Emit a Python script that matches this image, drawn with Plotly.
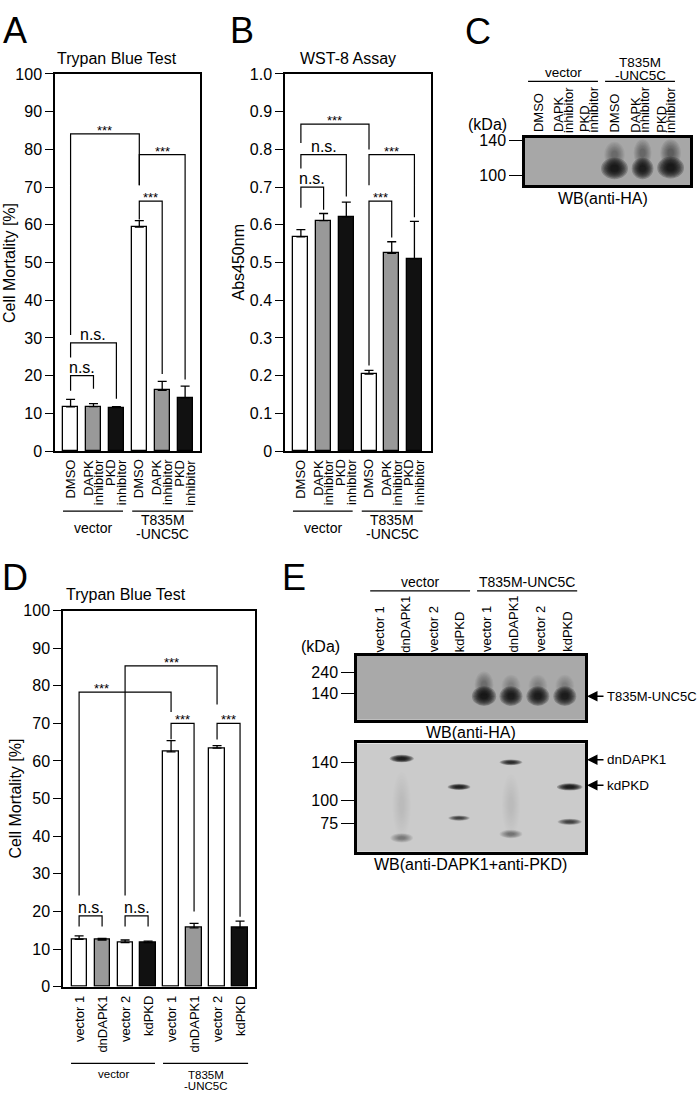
import plotly.graph_objects as go

W, H = 700, 1100
FONT = "Liberation Sans, Arial, Helvetica, sans-serif"


def px(x):
    return x / W


def py(y):
    return 1 - y / H


# ---------------- data ----------------
# Panel A : Trypan Blue Test (drug inhibitors)
a_lanes = ["DMSO", "DAPK<br>inhibitor", "PKD<br>inhibitor", "DMSO", "DAPK<br>inhibitor", "PKD<br>inhibitor"]
a_colors = ["white", "#999999", "#111111", "white", "#999999", "#111111"]
a_groups = ["vector", "T835M<br>-UNC5C"]
a_mortality = [11.7, 11.8, 11.5, 59.4, 16.1, 14.1]
a_mortality_sem = [2.0, 0.8, 0.3, 1.7, 2.4, 3.1]
a_yticks = [0, 10, 20, 30, 40, 50, 60, 70, 80, 90, 100]
# (left, right, top, left end, right end, label, label x)
a_brackets = [
    (0, 3, 84.1, 30.8, 70.5, "***", 1.5),
    (3, 5, 78.6, 70.5, 19.0, "***", 4.0),
    (3, 4, 66.3, 61.4, 20.4, "***", 3.5),
    (0, 2, 28.7, 24.8, 13.9, "n.s.", 1.0),
    (0, 1, 20.0, 16.0, 16.5, "n.s.", 0.5),
]

# Panel B : WST-8 Assay
b_abs450 = [0.568, 0.611, 0.621, 0.204, 0.524, 0.510]
b_abs450_sem = [0.019, 0.019, 0.039, 0.010, 0.031, 0.099]
b_yticks = [0, 0.1, 0.2, 0.3, 0.4, 0.5, 0.6, 0.7, 0.8, 0.9, 1.0]
b_yticktext = ["0", "0.1", "0.2", "0.3", "0.4", "0.5", "0.6", "0.7", "0.8", "0.9", "1.0"]
b_brackets = [
    (0, 3, 0.867, 0.817, 0.800, "***", 1.5),
    (0, 2, 0.786, 0.749, 0.675, "n.s.", 1.0),
    (0, 1, 0.700, 0.645, 0.640, "n.s.", 0.5),
    (3, 5, 0.786, 0.705, 0.620, "***", 4.0),
    (3, 4, 0.663, 0.227, 0.566, "***", 3.5),
]

# Panel C : WB(anti-HA)
c_lanes = a_lanes
c_marker_kda = [140, 100]
# (lane, kDa, width in lanes, height in kDa, intensity)
c_bands = [
    (3.0, 124, 0.8, 30, 0.22), (4.1, 126, 0.7, 32, 0.28), (5.2, 126, 0.8, 32, 0.32),
    (3.0, 108, 1.05, 25, 1.0), (4.1, 108, 0.85, 25, 0.95), (5.2, 109, 1.05, 25, 1.0),
]

# Panel D : Trypan Blue Test (dominant negative)
d_lanes = ["vector 1", "dnDAPK1", "vector 2", "kdPKD", "vector 1", "dnDAPK1", "vector 2", "kdPKD"]
d_colors = ["white", "#999999", "white", "#111111", "white", "#999999", "white", "#111111"]
d_mortality = [12.6, 12.4, 11.7, 11.7, 62.4, 15.6, 63.4, 15.6]
d_mortality_sem = [0.9, 0.4, 0.7, 0.4, 3.0, 1.2, 0.7, 1.8]
d_brackets = [
    (0, 4, 78.3, 24.2, 73.0, "***", 0.96),
    (2, 6, 85.3, 24.2, 75.0, "***", 4.0),
    (4, 5, 70.0, 65.8, 20.0, "***", 4.5),
    (6, 7, 70.0, 65.7, 18.6, "***", 6.5),
    (0, 1, 18.8, 16.0, 16.0, "n.s.", 0.5),
    (2, 3, 18.8, 16.0, 16.0, "n.s.", 2.5),
]

# Panel E : western blots
e_lanes = d_lanes
e_top_marker_kda = [240, 140]
e_bottom_marker_kda = [140, 100, 75]
e_top_bands = [
    (3.9, 180, 0.7, 130, 0.22), (4.9, 175, 0.7, 110, 0.14), (5.9, 175, 0.7, 110, 0.14), (6.9, 175, 0.7, 110, 0.14),
    (3.9, 126, 0.9, 95, 1.0), (4.9, 126, 0.85, 95, 0.95), (5.9, 126, 0.85, 95, 0.95), (6.9, 126, 0.85, 95, 0.95),
]
e_bottom_bands = [
    (0.84, 95, 0.7, 70, 0.035), (4.9, 95, 0.7, 65, 0.035),
    (0.84, 144, 0.9, 8, 1.0), (0.84, 60, 0.85, 10, 0.25),
    (2.97, 114, 0.85, 6.5, 0.95), (2.97, 81, 0.8, 5.5, 0.6),
    (4.9, 140, 0.85, 6, 0.8), (4.9, 64, 0.85, 9, 0.3),
    (7.08, 114, 0.95, 7.5, 1.0), (7.08, 77, 0.9, 6.5, 0.6),
]
e_top_targets = [("T835M-UNC5C", 126)]
e_bottom_targets = [("dnDAPK1", 142.8), ("kdPKD", 115.8)]

# ---------------- figure ----------------
fig = go.Figure()
annotations = []
shapes = []


def ann(text, x, y, size, xanchor="center", yanchor="middle", angle=0,
        xref="paper", yref="paper", xshift=0, yshift=0):
    annotations.append(dict(text=text, x=x, y=y, xref=xref, yref=yref, showarrow=False,
                            font=dict(size=size, color="black", family=FONT),
                            xanchor=xanchor, yanchor=yanchor, textangle=angle,
                            xshift=xshift, yshift=yshift))


def bar_panel(xa, ya, values, sems, colors, brackets):
    n = len(values)
    fig.add_trace(go.Bar(
        x=list(range(n)), y=values, width=0.66, xaxis=xa, yaxis=ya,
        marker=dict(color=colors, line=dict(color="black", width=1.3)),
        error_y=dict(type="data", symmetric=False, array=sems, arrayminus=[0] * n,
                     color="black", thickness=1.3, width=4.5),
        showlegend=False, hoverinfo="skip"))
    for (xl, xr, top, lb, rb, lab, lx) in brackets:
        fig.add_trace(go.Scatter(
            x=[xl, xl, xr, xr], y=[lb, top, top, rb], mode="lines",
            line=dict(color="black", width=1.2), xaxis=xa, yaxis=ya,
            showlegend=False, hoverinfo="skip", cliponaxis=False))
        if lab == "***":
            ann(lab, lx, top, 13, yanchor="bottom", xref=xa, yref=ya, yshift=-6)
        else:
            ann(lab, lx, top, 16, yanchor="bottom", xref=xa, yref=ya, yshift=-2)


def lane_labels(xa, lanes, ytop, size=13, spacing=10.6, anchor="top"):
    for i, lab in enumerate(lanes):
        parts = lab.split("<br>")
        k = len(parts)
        for j, part in enumerate(parts):
            ann(part, i, py(ytop), size, xanchor="center", yanchor=anchor, angle=-90,
                xref=xa, yref="paper", xshift=(j - (k - 1) / 2) * spacing)


def group_labels(xa, groups, spans, yline, baselines, size=14):
    for g, (x0, x1), bl in zip(groups, spans, baselines):
        shapes.append(dict(type="line", xref=xa, yref="paper", x0=x0, x1=x1,
                           y0=py(yline), y1=py(yline), line=dict(color="black", width=1.2)))
        for part, b in zip(g.split("<br>"), bl):
            ann(part, (x0 + x1) / 2, py(b - 0.35 * size), size, xref=xa, yref="paper")


# Panel A
bar_panel("x", "y", a_mortality, a_mortality_sem, a_colors, a_brackets)
lane_labels("x", a_lanes, 456.5)
group_labels("x", a_groups, [(-0.33, 2.29), (2.69, 5.35)], 511, [[533], [525, 539]])

# Panel B
bar_panel("x2", "y2", b_abs450, b_abs450_sem, a_colors, b_brackets)
lane_labels("x2", a_lanes, 456.5)
group_labels("x2", a_groups, [(-0.35, 2.28), (2.68, 5.36)], 511, [[533], [525, 539]])

# Panel D
bar_panel("x3", "y3", d_mortality, d_mortality_sem, d_colors, d_brackets)
lane_labels("x3", d_lanes, 1001.5)
group_labels("x3", a_groups, [(-0.35, 3.3), (3.65, 7.35)], 1072, [[1087], [1087.5, 1099]], size=11.5)


def blot(xa, ya, bands, bg):
    shapes.append(dict(type="rect", xref=xa + " domain", yref=ya + " domain", x0=0, x1=1, y0=0, y1=1,
                       fillcolor=bg, line=dict(width=0), layer="below"))
    for (lane, kda, w, h, inten) in bands:
        for s in [1.0, 0.9, 0.8, 0.7, 0.6, 0.5, 0.4, 0.3]:
            shapes.append(dict(type="circle", xref=xa, yref=ya,
                               x0=lane - w / 2 * s, x1=lane + w / 2 * s,
                               y0=kda - h / 2 * s, y1=kda + h / 2 * s,
                               fillcolor="#080808", opacity=0.23 * inten,
                               line=dict(width=0), layer="below"))


blot("x4", "y4", c_bands, "#a7a7a7")
lane_labels("x4", c_lanes, 128.5, spacing=9.8, anchor="bottom")
group_labels("x4", a_groups, [(-0.39, 2.35), (2.63, 5.37)], 74.5, [[70.5], [60.5, 73]], size=13.5)
ann("(kDa)", px(487), py(118), 16)
ann("WB(anti-HA)", px(603), py(193), 16)

blot("x5", "y5", e_top_bands, "#a9a9a9")
blot("x6", "y6", e_bottom_bands, "#cbcbcb")
lane_labels("x5", e_lanes, 656.5, anchor="bottom")
group_labels("x5", ["vector", "T835M-UNC5C"], [(-0.33, 3.38), (3.64, 7.36)], 592, [[588], [588]])
ann("(kDa)", px(320), py(649), 16)
ann("WB(anti-HA)", px(471), py(735.5), 16)
ann("WB(anti-DAPK1+anti-PKD)", px(470.5), py(870), 16)

for (lab, kda) in e_top_targets:
    annotations.append(dict(text="", x=px(587), y=kda, xref="paper", yref="y5", ax=18, ay=0,
                            showarrow=True, arrowhead=2, arrowsize=1.4, arrowwidth=1.5,
                            arrowcolor="black"))
    ann(lab, px(605), kda, 13, xanchor="left", yref="y5")
for (lab, kda) in e_bottom_targets:
    annotations.append(dict(text="", x=px(587), y=kda, xref="paper", yref="y6", ax=18, ay=0,
                            showarrow=True, arrowhead=2, arrowsize=1.4, arrowwidth=1.5,
                            arrowcolor="black"))
    ann(lab, px(605), kda, 13.5, xanchor="left", yref="y6")

# Titles, axis titles, panel letters
ann("Trypan Blue Test", px(117.5), py(51), 16)
ann("WST-8 Assay", px(347.5), py(51), 16)
ann("Trypan Blue Test", px(126), py(595.5), 16)
ann("Cell Mortality [%]", px(10), py(259), 16, angle=-90)
ann("Abs450nm", px(239), py(258.5), 16, angle=-90)
ann("Cell Mortality [%]", px(16), py(803), 16, angle=-90)
for letter, x, y in [("A", 1, 0), ("B", 228, 0), ("C", 463, 1), ("D", 0, 556), ("E", 280, 556)]:
    ann(letter, px(x), py(y), 36, xanchor="left", yanchor="top")

# Axes
axis_common = dict(showgrid=False, zeroline=False, showline=True, linecolor="black", mirror=True)
bar_x = dict(axis_common, linewidth=1.5, ticks="", showticklabels=False)
bar_y = dict(axis_common, linewidth=1.5, ticks="outside", ticklen=8, tickwidth=1.3, tickcolor="black",
             tickfont=dict(size=16, color="black", family=FONT))
blot_x = dict(axis_common, linewidth=2.5, ticks="", showticklabels=False)
blot_y = dict(axis_common, linewidth=2.5, ticks="outside", ticklen=13, tickwidth=1.3, tickcolor="black",
              tickfont=dict(size=16, color="black", family=FONT))

fig.update_layout(
    width=W, height=H, autosize=False,
    margin=dict(l=0, r=0, t=0, b=0),
    paper_bgcolor="white", plot_bgcolor="white",
    font=dict(family=FONT, color="black"),
    bargap=0,
    xaxis=dict(bar_x, domain=[px(55), px(200)], range=[-0.68, 5.65], anchor="y"),
    yaxis=dict(bar_y, domain=[py(450), py(67)], range=[0, 100], tickvals=a_yticks, anchor="x"),
    xaxis2=dict(bar_x, domain=[px(285), px(431)], range=[-0.70, 5.73], anchor="y2"),
    yaxis2=dict(bar_y, domain=[py(450), py(67)], range=[0, 1], tickvals=b_yticks, ticktext=b_yticktext, anchor="x2"),
    xaxis3=dict(bar_x, domain=[px(63), px(255)], range=[-0.70, 7.65], anchor="y3"),
    yaxis3=dict(bar_y, domain=[py(994), py(612)], range=[0, 100], tickvals=a_yticks, anchor="x3"),
    xaxis4=dict(blot_x, domain=[px(525), px(690)], range=[-0.51, 5.96], anchor="y4"),
    yaxis4=dict(blot_y, domain=[py(180), py(132)], range=[88.6, 143.4], tickvals=c_marker_kda, anchor="x4"),
    xaxis5=dict(blot_x, domain=[px(357), px(585)], range=[-0.82, 7.65], anchor="y5"),
    yaxis5=dict(blot_y, domain=[py(723), py(658)], range=[11.4, 321], tickvals=e_top_marker_kda, anchor="x5"),
    xaxis6=dict(blot_x, domain=[px(357), px(585)], range=[-0.82, 7.65], anchor="y6"),
    yaxis6=dict(blot_y, domain=[py(857), py(747)], range=[45.3, 160], tickvals=e_bottom_marker_kda, anchor="x6"),
    annotations=annotations,
    shapes=shapes,
)

fig.write_html("out.html", config={"displayModeBar": False},
               post_script="document.body.style.margin='0px';document.body.style.padding='0px';"
                           "document.documentElement.style.overflow='hidden';")
